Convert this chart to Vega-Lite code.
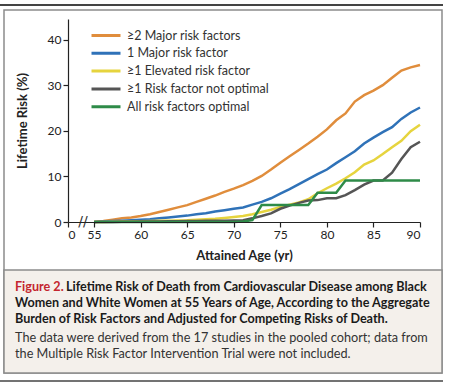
{
  "$schema": "https://vega.github.io/schema/vega-lite/v6.json",
  "width": 352,
  "height": 203,
  "autosize": {"type": "none"},
  "padding": {"left": 68, "top": 19, "right": 30, "bottom": 163},
  "background": "white",
  "config": {
    "view": {"stroke": null},
    "font": "Lato",
    "axis": {"domainColor": "#222", "tickColor": "#222", "labelColor": "#222", "titleColor": "#222", "labelFont": "Lato", "titleFont": "Lato", "labelFontSize": 12, "titleFontSize": 13, "titleFontWeight": "bold", "grid": false, "tickSize": 5, "domainWidth": 1.2, "tickWidth": 1.2}
  },
  "datasets": {
    "risk": [
      {"age":55,"g":"≥2 Major risk factors","v":0},{"age":56,"g":"≥2 Major risk factors","v":0.2},{"age":57,"g":"≥2 Major risk factors","v":0.5},{"age":58,"g":"≥2 Major risk factors","v":0.8},{"age":59,"g":"≥2 Major risk factors","v":1.0},{"age":60,"g":"≥2 Major risk factors","v":1.3},{"age":61,"g":"≥2 Major risk factors","v":1.7},{"age":62,"g":"≥2 Major risk factors","v":2.2},{"age":63,"g":"≥2 Major risk factors","v":2.7},{"age":64,"g":"≥2 Major risk factors","v":3.2},{"age":65,"g":"≥2 Major risk factors","v":3.7},{"age":66,"g":"≥2 Major risk factors","v":4.4},{"age":67,"g":"≥2 Major risk factors","v":5.1},{"age":68,"g":"≥2 Major risk factors","v":5.8},{"age":69,"g":"≥2 Major risk factors","v":6.6},{"age":70,"g":"≥2 Major risk factors","v":7.3},{"age":71,"g":"≥2 Major risk factors","v":8.1},{"age":72,"g":"≥2 Major risk factors","v":9.0},{"age":73,"g":"≥2 Major risk factors","v":10.1},{"age":74,"g":"≥2 Major risk factors","v":11.5},{"age":75,"g":"≥2 Major risk factors","v":13.0},{"age":76,"g":"≥2 Major risk factors","v":14.4},{"age":77,"g":"≥2 Major risk factors","v":15.8},{"age":78,"g":"≥2 Major risk factors","v":17.2},{"age":79,"g":"≥2 Major risk factors","v":18.7},{"age":80,"g":"≥2 Major risk factors","v":20.3},{"age":81,"g":"≥2 Major risk factors","v":22.3},{"age":82,"g":"≥2 Major risk factors","v":23.8},{"age":83,"g":"≥2 Major risk factors","v":26.4},{"age":84,"g":"≥2 Major risk factors","v":27.8},{"age":85,"g":"≥2 Major risk factors","v":28.8},{"age":86,"g":"≥2 Major risk factors","v":30.0},{"age":87,"g":"≥2 Major risk factors","v":31.6},{"age":88,"g":"≥2 Major risk factors","v":33.2},{"age":89,"g":"≥2 Major risk factors","v":33.9},{"age":90,"g":"≥2 Major risk factors","v":34.4},
      {"age":55,"g":"1 Major risk factor","v":0},{"age":56,"g":"1 Major risk factor","v":0.1},{"age":57,"g":"1 Major risk factor","v":0.2},{"age":58,"g":"1 Major risk factor","v":0.3},{"age":59,"g":"1 Major risk factor","v":0.4},{"age":60,"g":"1 Major risk factor","v":0.5},{"age":61,"g":"1 Major risk factor","v":0.6},{"age":62,"g":"1 Major risk factor","v":0.8},{"age":63,"g":"1 Major risk factor","v":1.0},{"age":64,"g":"1 Major risk factor","v":1.2},{"age":65,"g":"1 Major risk factor","v":1.4},{"age":66,"g":"1 Major risk factor","v":1.7},{"age":67,"g":"1 Major risk factor","v":1.9},{"age":68,"g":"1 Major risk factor","v":2.3},{"age":69,"g":"1 Major risk factor","v":2.6},{"age":70,"g":"1 Major risk factor","v":2.9},{"age":71,"g":"1 Major risk factor","v":3.2},{"age":72,"g":"1 Major risk factor","v":3.8},{"age":73,"g":"1 Major risk factor","v":4.4},{"age":74,"g":"1 Major risk factor","v":5.2},{"age":75,"g":"1 Major risk factor","v":6.2},{"age":76,"g":"1 Major risk factor","v":7.2},{"age":77,"g":"1 Major risk factor","v":8.3},{"age":78,"g":"1 Major risk factor","v":9.4},{"age":79,"g":"1 Major risk factor","v":10.5},{"age":80,"g":"1 Major risk factor","v":11.5},{"age":81,"g":"1 Major risk factor","v":12.9},{"age":82,"g":"1 Major risk factor","v":14.2},{"age":83,"g":"1 Major risk factor","v":15.5},{"age":84,"g":"1 Major risk factor","v":17.2},{"age":85,"g":"1 Major risk factor","v":18.5},{"age":86,"g":"1 Major risk factor","v":19.7},{"age":87,"g":"1 Major risk factor","v":20.8},{"age":88,"g":"1 Major risk factor","v":22.6},{"age":89,"g":"1 Major risk factor","v":24.0},{"age":90,"g":"1 Major risk factor","v":25.1},
      {"age":55,"g":"≥1 Elevated risk factor","v":0},{"age":56,"g":"≥1 Elevated risk factor","v":0},{"age":57,"g":"≥1 Elevated risk factor","v":0.05},{"age":58,"g":"≥1 Elevated risk factor","v":0.1},{"age":59,"g":"≥1 Elevated risk factor","v":0.1},{"age":60,"g":"≥1 Elevated risk factor","v":0.15},{"age":61,"g":"≥1 Elevated risk factor","v":0.2},{"age":62,"g":"≥1 Elevated risk factor","v":0.25},{"age":63,"g":"≥1 Elevated risk factor","v":0.3},{"age":64,"g":"≥1 Elevated risk factor","v":0.35},{"age":65,"g":"≥1 Elevated risk factor","v":0.4},{"age":66,"g":"≥1 Elevated risk factor","v":0.5},{"age":67,"g":"≥1 Elevated risk factor","v":0.6},{"age":68,"g":"≥1 Elevated risk factor","v":0.7},{"age":69,"g":"≥1 Elevated risk factor","v":0.9},{"age":70,"g":"≥1 Elevated risk factor","v":1.1},{"age":71,"g":"≥1 Elevated risk factor","v":1.3},{"age":72,"g":"≥1 Elevated risk factor","v":1.7},{"age":73,"g":"≥1 Elevated risk factor","v":2.2},{"age":74,"g":"≥1 Elevated risk factor","v":2.7},{"age":75,"g":"≥1 Elevated risk factor","v":3.3},{"age":76,"g":"≥1 Elevated risk factor","v":3.8},{"age":77,"g":"≥1 Elevated risk factor","v":4.3},{"age":78,"g":"≥1 Elevated risk factor","v":5.0},{"age":79,"g":"≥1 Elevated risk factor","v":6.3},{"age":80,"g":"≥1 Elevated risk factor","v":7.4},{"age":81,"g":"≥1 Elevated risk factor","v":8.4},{"age":82,"g":"≥1 Elevated risk factor","v":9.6},{"age":83,"g":"≥1 Elevated risk factor","v":10.9},{"age":84,"g":"≥1 Elevated risk factor","v":12.6},{"age":85,"g":"≥1 Elevated risk factor","v":13.5},{"age":86,"g":"≥1 Elevated risk factor","v":14.9},{"age":87,"g":"≥1 Elevated risk factor","v":16.4},{"age":88,"g":"≥1 Elevated risk factor","v":17.8},{"age":89,"g":"≥1 Elevated risk factor","v":19.9},{"age":90,"g":"≥1 Elevated risk factor","v":21.3},
      {"age":55,"g":"≥1 Risk factor not optimal","v":0},{"age":56,"g":"≥1 Risk factor not optimal","v":0},{"age":57,"g":"≥1 Risk factor not optimal","v":0},{"age":58,"g":"≥1 Risk factor not optimal","v":0.05},{"age":59,"g":"≥1 Risk factor not optimal","v":0.05},{"age":60,"g":"≥1 Risk factor not optimal","v":0.1},{"age":61,"g":"≥1 Risk factor not optimal","v":0.1},{"age":62,"g":"≥1 Risk factor not optimal","v":0.1},{"age":63,"g":"≥1 Risk factor not optimal","v":0.15},{"age":64,"g":"≥1 Risk factor not optimal","v":0.15},{"age":65,"g":"≥1 Risk factor not optimal","v":0.2},{"age":66,"g":"≥1 Risk factor not optimal","v":0.2},{"age":67,"g":"≥1 Risk factor not optimal","v":0.25},{"age":68,"g":"≥1 Risk factor not optimal","v":0.3},{"age":69,"g":"≥1 Risk factor not optimal","v":0.3},{"age":70,"g":"≥1 Risk factor not optimal","v":0.35},{"age":71,"g":"≥1 Risk factor not optimal","v":0.4},{"age":72,"g":"≥1 Risk factor not optimal","v":0.8},{"age":73,"g":"≥1 Risk factor not optimal","v":1.3},{"age":74,"g":"≥1 Risk factor not optimal","v":1.9},{"age":75,"g":"≥1 Risk factor not optimal","v":2.9},{"age":76,"g":"≥1 Risk factor not optimal","v":3.6},{"age":77,"g":"≥1 Risk factor not optimal","v":4.2},{"age":78,"g":"≥1 Risk factor not optimal","v":4.7},{"age":79,"g":"≥1 Risk factor not optimal","v":4.8},{"age":80,"g":"≥1 Risk factor not optimal","v":5.2},{"age":81,"g":"≥1 Risk factor not optimal","v":5.2},{"age":82,"g":"≥1 Risk factor not optimal","v":5.9},{"age":83,"g":"≥1 Risk factor not optimal","v":7.0},{"age":84,"g":"≥1 Risk factor not optimal","v":8.2},{"age":85,"g":"≥1 Risk factor not optimal","v":9.1},{"age":86,"g":"≥1 Risk factor not optimal","v":9.1},{"age":87,"g":"≥1 Risk factor not optimal","v":10.8},{"age":88,"g":"≥1 Risk factor not optimal","v":13.8},{"age":89,"g":"≥1 Risk factor not optimal","v":16.4},{"age":90,"g":"≥1 Risk factor not optimal","v":17.6},
      {"age":55,"g":"All risk factors optimal","v":0},{"age":60,"g":"All risk factors optimal","v":0},{"age":65,"g":"All risk factors optimal","v":0},{"age":70,"g":"All risk factors optimal","v":0},{"age":71,"g":"All risk factors optimal","v":0.1},{"age":72,"g":"All risk factors optimal","v":0.4},{"age":73,"g":"All risk factors optimal","v":3.7},{"age":74,"g":"All risk factors optimal","v":3.7},{"age":75,"g":"All risk factors optimal","v":3.7},{"age":76,"g":"All risk factors optimal","v":3.7},{"age":77,"g":"All risk factors optimal","v":3.7},{"age":78,"g":"All risk factors optimal","v":3.7},{"age":79,"g":"All risk factors optimal","v":6.4},{"age":80,"g":"All risk factors optimal","v":6.4},{"age":81,"g":"All risk factors optimal","v":6.4},{"age":82,"g":"All risk factors optimal","v":9.1},{"age":83,"g":"All risk factors optimal","v":9.1},{"age":84,"g":"All risk factors optimal","v":9.1},{"age":85,"g":"All risk factors optimal","v":9.1},{"age":86,"g":"All risk factors optimal","v":9.1},{"age":87,"g":"All risk factors optimal","v":9.1},{"age":88,"g":"All risk factors optimal","v":9.1},{"age":89,"g":"All risk factors optimal","v":9.1},{"age":90,"g":"All risk factors optimal","v":9.1}
    ],
    "brk": [{"age": 53.8, "v": 0, "t": "//"}]
  },
  "layer": [
    {
      "data": {"values": [{}]},
      "mark": {"type": "rule", "stroke": "#444", "strokeWidth": 2},
      "encoding": {"x": {"value": -68}, "x2": {"value": 375}, "y": {"value": -14}}
    },
    {
      "data": {"values": [{}]},
      "mark": {"type": "rect", "fill": "white", "fillOpacity": 0, "stroke": "#8c8c8c", "strokeWidth": 1.5},
      "encoding": {"x": {"value": -64}, "x2": {"value": 374}, "y": {"value": -9}, "y2": {"value": 354}}
    },
    {
      "data": {"values": [{}]},
      "mark": {"type": "rect", "fill": "#f4f0eb", "stroke": "#8c8c8c", "strokeWidth": 1.5},
      "encoding": {"x": {"value": -64}, "x2": {"value": 374}, "y": {"value": 251}, "y2": {"value": 354}}
    },
    {
      "data": {"values": [{}]},
      "mark": {"type": "rule", "stroke": "#444", "strokeWidth": 1.5},
      "encoding": {"x": {"value": -68}, "x2": {"value": 375}, "y": {"value": 362}}
    },
    {
      "data": {"name": "risk"},
      "mark": {"type": "line", "strokeWidth": 2.5, "clip": false},
      "encoding": {
        "x": {"field": "age", "type": "quantitative", "scale": {"domain": [52.2, 90], "nice": false, "zero": false},
              "axis": {"zindex": 1, "values": [52.2, 55, 60, 65, 70, 75, 80, 85, 90], "labelExpr": "datum.value < 54 ? '0' : datum.label", "title": "Attained Age (yr)", "titlePadding": 9, "labelPadding": 2}},
        "y": {"field": "v", "type": "quantitative", "scale": {"domain": [0, 44.5], "nice": false},
              "axis": {"zindex": 1, "values": [0, 10, 20, 30, 40], "title": "Lifetime Risk (%)", "titlePadding": 18, "labelPadding": 2}},
        "color": {"field": "g", "type": "nominal", "sort": null,
                  "scale": {"domain": ["≥2 Major risk factors", "1 Major risk factor", "≥1 Elevated risk factor", "≥1 Risk factor not optimal", "All risk factors optimal"],
                            "range": ["#e08d3c", "#2f72b8", "#e6d43e", "#555555", "#2e8b48"]},
                  "legend": {"orient": "none", "legendX": 22, "legendY": 10, "title": null, "symbolType": "stroke", "symbolSize": 840, "symbolStrokeWidth": 3, "labelFont": "Lato", "labelFontSize": 12.5, "labelColor": "#333", "clipHeight": 13, "rowPadding": 4.8, "labelOffset": 5}},
        "order": {"value": 0}
      }
    },
    {
      "data": {"name": "brk"},
      "mark": {"type": "text", "fontSize": 14, "color": "#333", "font": "DejaVu Sans"},
      "encoding": {"x": {"field": "age", "type": "quantitative"}, "y": {"field": "v", "type": "quantitative"}, "text": {"field": "t"}}
    },
    {
      "data": {"values": [{}]},
      "mark": {"type": "text", "text": "Figure 2.", "align": "left", "baseline": "middle", "font": "Lato", "fontWeight": "bold", "fontSize": 12.6, "color": "#c4262e"},
      "encoding": {"x": {"value": -53}, "y": {"value": 268}}
    },
    {
      "data": {"values": [{}]},
      "mark": {"type": "text", "text": "Lifetime Risk of Death from Cardiovascular Disease among Black", "align": "left", "baseline": "middle", "font": "Lato", "fontWeight": "bold", "fontSize": 12.6, "color": "#1a1a1a"},
      "encoding": {"x": {"value": -2}, "y": {"value": 268}}
    },
    {
      "data": {"values": [{}]},
      "mark": {"type": "text", "text": "Women and White Women at 55 Years of Age, According to the Aggregate", "align": "left", "baseline": "middle", "font": "Lato", "fontWeight": "bold", "fontSize": 12.6, "color": "#1a1a1a"},
      "encoding": {"x": {"value": -53}, "y": {"value": 284}}
    },
    {
      "data": {"values": [{}]},
      "mark": {"type": "text", "text": "Burden of Risk Factors and Adjusted for Competing Risks of Death.", "align": "left", "baseline": "middle", "font": "Lato", "fontWeight": "bold", "fontSize": 12.6, "color": "#1a1a1a"},
      "encoding": {"x": {"value": -53}, "y": {"value": 299.5}}
    },
    {
      "data": {"values": [{}]},
      "mark": {"type": "text", "text": "The data were derived from the 17 studies in the pooled cohort; data from", "align": "left", "baseline": "middle", "font": "Lato", "fontSize": 12.7, "color": "#333"},
      "encoding": {"x": {"value": -53}, "y": {"value": 319}}
    },
    {
      "data": {"values": [{}]},
      "mark": {"type": "text", "text": "the Multiple Risk Factor Intervention Trial were not included.", "align": "left", "baseline": "middle", "font": "Lato", "fontSize": 12.7, "color": "#333"},
      "encoding": {"x": {"value": -53}, "y": {"value": 335}}
    }
  ]
}
